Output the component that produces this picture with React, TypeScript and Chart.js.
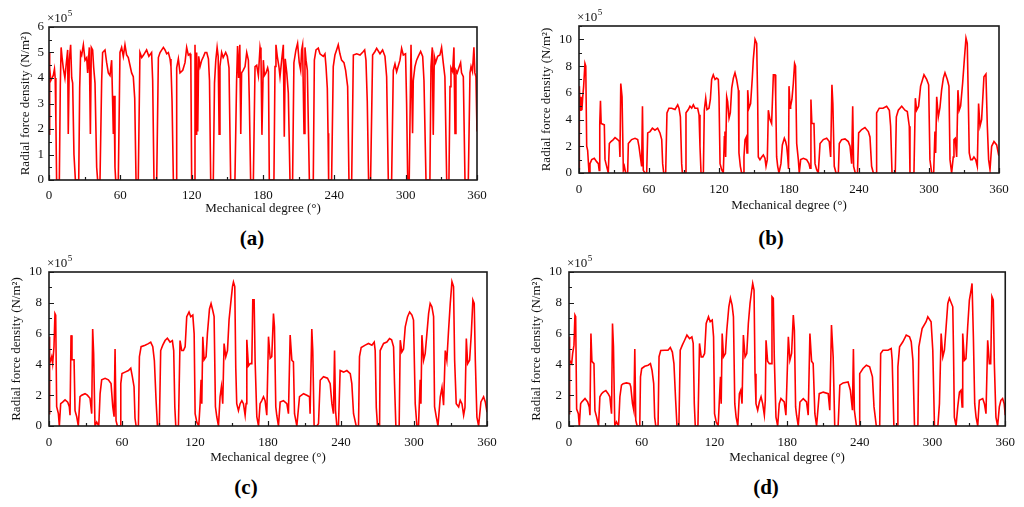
import { useEffect, useRef } from 'react'
import { Chart, LineController, LineElement, PointElement, LinearScale } from 'chart.js'

Chart.register(LineController, LineElement, PointElement, LinearScale)

const FONT = '"Liberation Serif", "Times New Roman", serif'
const X_TITLE = 'Mechanical degree (°)'
const Y_TITLE = 'Radial force density (N/m²)'
const LABELS = ['(a)', '(b)', '(c)', '(d)']
const X_TICKS = [0, 60, 120, 180, 240, 300, 360]
const Y_TICKS_A = [0, 1, 2, 3, 4, 5, 6]
const Y_TICKS_B = [0, 2, 4, 6, 8, 10]
const Y_TICKS_CD = [0, 2, 4, 6, 8, 10]

// [mechanical degree, radial force density ×10^5 N/m²]
const seriesA1 = [
  [0, 1.8], [0.3, 5.0], [0.8, 4.4], [1.5, 3.9], [2.6, 4.0], [3.6, 4.1], [4.6, 4.35], [5.2, 4.0], [5.8, 2.3], [6.4, 0],
  [8.7, 0], [9.5, 3.7], [10.2, 5.2], [11.0, 4.8], [12.0, 4.4], [13.4, 4.0], [14.4, 4.5], [15.7, 5.1], [16.2, 1.8], [17.1, 4.7],
  [18.2, 5.3], [19.1, 4.0], [19.9, 3.8], [21.0, 1.0], [22.2, 0], [25.0, 0], [25.8, 3.6], [26.6, 5.0], [27.5, 4.9], [28.9, 5.3],
  [30.3, 4.7], [31.7, 4.8], [32.5, 4.2], [33.9, 5.2], [34.8, 1.8], [35.6, 5.2], [36.7, 5.1], [37.6, 4.4], [38.7, 3.8], [40.1, 0.5],
  [40.9, 0], [42.9, 0], [44.3, 3.9], [45.1, 5.0], [47.1, 5.1], [48.5, 4.6], [49.9, 4.2], [51.3, 4.1], [52.7, 4.7], [53.6, 2.9],
  [54.1, 1.8], [54.7, 3.3], [55.5, 0.5], [56.1, 0], [58.3, 0], [59.7, 5.0], [61.1, 5.2], [62.5, 4.85], [63.9, 5.3], [65.3, 4.9],
  [66.7, 4.8], [68.1, 4.5], [69.5, 4.2], [70.9, 4.05], [72.1, 3.2], [73.2, 0], [75.1, 0], [76.5, 5.0], [78.0, 4.8], [79.5, 4.9],
  [82.1, 5.1], [84.0, 4.85], [86.3, 5.0], [87.2, 3.9], [88.3, 0], [90.6, 0], [92.0, 4.8], [93.4, 5.0], [96.2, 5.2], [97.6, 5.1],
  [99.0, 4.95], [100.4, 5.0], [101.8, 4.75], [102.6, 4.45], [103.5, 3.1], [104.6, 0], [107.0, 0], [107.4, 4.4], [108.8, 4.75], [110.2, 4.2],
  [112.5, 4.3], [114.4, 4.6], [115.8, 5.2], [117.2, 4.9], [118.6, 4.95], [119.3, 4.7], [120.0, 0], [122.0, 0], [122.8, 5.3], [123.7, 1.8],
  [124.2, 5.0], [125.1, 1.9], [125.9, 4.85], [127.1, 4.45], [128.5, 4.7], [130.0, 4.85], [131.3, 5.0], [132.7, 5.0], [134.1, 4.75], [135.0, 3.9],
  [136.0, 0], [138.2, 0], [139.2, 3.8], [140.3, 4.7], [141.4, 5.2], [142.3, 4.85], [143.1, 1.8], [143.8, 4.45], [145.2, 5.0], [146.5, 4.8],
  [148.6, 5.0], [150.0, 4.85], [151.4, 4.4], [152.8, 0], [156.4, 0], [157.8, 3.9], [158.6, 5.25], [159.5, 4.0], [160.5, 5.3], [161.3, 1.8],
  [162.0, 4.2], [163.3, 4.3], [164.9, 4.45], [166.3, 5.0], [167.7, 4.7], [168.5, 3.1], [169.6, 0], [171.9, 0], [173.3, 4.45], [174.7, 4.5],
  [176.1, 4.1], [177.5, 5.2], [178.3, 4.95], [179.1, 1.77],
]
const seriesA2 = [
  [180.3, 4.7], [181.2, 4.1], [182.5, 4.2], [183.9, 4.4], [184.6, 4.25], [185.3, 0], [189.2, 0], [190.1, 4.45], [190.9, 5.3], [192.0, 4.85],
  [193.4, 4.45], [194.3, 4.05], [195.7, 4.7], [197.1, 5.3], [197.9, 1.7], [198.7, 4.75], [200.0, 4.2], [201.3, 3.4], [202.7, 0], [204.9, 0],
  [206.0, 4.6], [207.7, 5.1], [209.1, 5.36], [210.5, 4.6], [211.7, 4.3], [212.5, 5.1], [213.3, 5.3], [214.5, 1.83], [215.3, 5.2], [216.2, 4.7],
  [217.3, 4.3], [219.0, 0], [222.3, 0], [223.2, 4.7], [224.6, 5.1], [226.5, 5.17], [227.9, 4.95], [229.3, 4.9], [230.7, 4.85], [232.1, 4.95],
  [233.0, 4.45], [234.1, 3.6], [234.7, 1.83], [235.2, 0], [237.7, 0], [239.1, 4.45], [240.5, 4.9], [241.9, 5.1], [243.3, 5.3], [244.7, 4.95],
  [246.1, 4.7], [248.1, 4.6], [249.5, 4.3], [251.2, 3.66], [252.3, 0], [254.6, 0], [256.0, 4.9], [258.8, 4.95], [261.6, 4.9], [264.4, 5.04],
  [265.5, 5.1], [266.6, 4.7], [267.7, 3.1], [268.8, 0], [270.5, 0], [272.2, 4.9], [274.2, 5.04], [275.6, 5.16], [278.4, 4.95], [280.6, 5.1],
  [282.6, 4.85], [284.0, 4.05], [285.4, 0], [288.2, 0], [289.6, 4.3], [291.0, 4.55], [292.4, 4.25], [295.2, 4.7], [296.6, 5.16], [298.0, 4.9],
  [299.9, 4.95], [300.8, 3.0], [301.7, 0], [303.0, 0], [304.5, 5.3], [305.8, 1.83], [306.4, 3.9], [307.8, 4.45], [309.2, 4.7], [310.6, 4.85],
  [312.6, 5.04], [314.3, 4.85], [315.4, 3.9], [317.1, 0], [320.4, 0], [321.3, 4.45], [322.4, 5.2], [323.2, 1.77], [324.1, 4.85], [325.2, 4.6],
  [326.9, 4.85], [328.8, 4.9], [330.2, 5.2], [331.6, 4.6], [333.0, 4.05], [334.5, 0], [336.4, 0], [337.3, 3.66], [338.1, 4.4], [339.5, 4.25],
  [340.6, 5.2], [341.5, 1.83], [342.3, 4.3], [343.4, 4.2], [345.1, 4.45], [346.2, 4.6], [347.0, 4.2], [348.5, 4.05], [349.9, 0], [352.7, 0],
  [354.1, 4.2], [355.0, 4.45], [356.2, 4.25], [357.4, 5.2], [358.2, 4.2], [359.1, 4.05], [360, 1.9],
]

const seriesB1 = [
  [0, 0.3], [0.3, 6.5], [0.9, 4.7], [1.7, 5.7], [2.5, 4.7], [3.2, 5.7], [4.0, 6.5], [5.1, 8.2], [5.8, 8.0], [6.6, 2.0],
  [7.4, 1.7], [8.6, 0], [9.4, 0.7], [10.9, 1.0], [13.1, 1.1], [15.1, 0.85], [16.6, 0.7], [17.3, 0.2], [17.8, 3.7], [18.4, 5.4],
  [19.0, 3.7], [21.7, 3.6], [22.3, 1.0], [23.7, 0.5], [25.1, 0], [26.0, 2.2], [27.4, 2.35], [29.4, 2.5], [30.9, 2.65], [33.1, 2.5],
  [34.6, 2.35], [35.1, 1.2], [35.8, 6.7], [36.9, 5.7], [38.0, 0.2], [38.9, 0.5], [40.0, 0], [41.7, 0], [42.3, 2.2], [43.7, 2.35],
  [45.1, 2.5], [48.0, 2.6], [50.3, 2.5], [51.4, 2.0], [52.6, 1.2], [53.7, 0.5], [54.4, 5.0], [55.1, 0.2], [56.6, 0], [58.0, 0],
  [58.9, 3.0], [60.9, 3.1], [62.9, 3.35], [65.1, 3.2], [67.4, 3.35], [69.4, 3.0], [70.9, 2.5], [71.7, 0.7], [72.6, 0], [74.3, 0],
  [75.4, 4.5], [77.1, 4.85], [79.4, 4.85], [82.3, 4.75], [84.6, 5.1], [85.7, 4.85], [86.9, 4.2], [88.0, 0.7], [88.6, 0], [90.9, 0],
  [91.7, 4.5], [93.7, 4.75], [95.1, 5.0], [96.6, 4.85], [98.0, 5.1], [99.4, 4.85], [101.7, 4.85], [102.9, 4.35], [103.7, 2.0], [104.6, 0],
  [106.6, 0], [107.4, 4.7], [108.6, 5.6], [109.7, 4.75], [111.4, 4.85], [112.6, 5.5], [113.7, 7.0], [115.1, 7.35], [116.6, 7.0], [118.0, 7.1],
  [119.4, 7.0], [120.0, 5.7], [120.9, 0.7], [122.3, 0.25], [123.7, 0], [124.6, 2.7], [125.1, 3.1], [125.7, 1.2], [126.6, 5.7], [127.4, 5.35],
  [128.6, 4.1], [129.7, 4.5], [130.9, 6.35], [132.3, 7.1], [133.7, 7.5], [135.1, 7.0], [136.6, 6.2], [137.1, 1.5], [138.3, 0.5], [139.4, 0],
  [140.9, 0], [141.4, 1.2], [142.3, 2.5], [143.4, 2.7], [144.0, 1.5], [144.6, 6.2], [145.7, 4.85], [147.1, 5.2], [148.6, 7.2], [149.4, 8.5],
  [150.9, 10.0], [152.3, 9.7], [153.1, 5.7], [153.7, 1.2], [155.1, 1.0], [156.6, 1.2], [158.0, 1.35], [159.4, 1.1], [160.3, 0.5], [161.4, 1.0],
  [162.3, 4.7], [163.7, 4.0], [165.1, 3.7], [166.6, 7.35], [168.0, 7.35], [168.6, 5.7], [169.4, 1.2], [170.3, 0.5], [171.4, 0], [173.1, 0.7],
  [174.3, 2.1], [176.0, 2.6], [177.1, 2.35], [178.0, 2.0], [178.9, 1.2], [179.6, 0.3],
]
const seriesB2 = [
  [180.0, 6.5], [181.0, 4.85], [181.4, 5.0], [182.5, 5.5], [183.7, 6.7], [184.8, 8.2], [185.6, 8.0], [186.6, 2.2], [188.0, 1.0], [188.8, 0],
  [190.0, 1.0], [192.3, 1.1], [195.1, 1.0], [197.1, 0.7], [198.0, 0.35], [198.8, 5.5], [199.6, 3.7], [201.4, 3.7], [202.3, 0.7], [203.7, 0.25],
  [205.1, 0], [206.6, 2.2], [209.4, 2.5], [212.3, 2.6], [214.5, 2.35], [215.7, 1.2], [216.8, 6.6], [217.6, 5.2], [218.8, 0.5], [220.3, 0],
  [222.3, 0], [223.1, 2.2], [225.1, 2.5], [228.0, 2.55], [230.8, 2.35], [232.3, 2.0], [233.7, 0.7], [234.6, 5.0], [235.4, 0.5], [236.8, 0],
  [238.7, 0], [239.7, 3.0], [242.3, 3.25], [245.1, 3.4], [248.0, 3.1], [249.4, 2.7], [250.8, 0.5], [252.3, 0], [254.6, 0], [255.1, 4.5],
  [257.4, 4.85], [260.6, 4.85], [263.7, 5.0], [266.0, 4.7], [267.1, 3.5], [268.3, 0], [271.1, 0], [272.0, 4.2], [273.7, 4.7], [276.6, 5.0],
  [279.4, 4.7], [281.4, 4.6], [283.1, 3.5], [283.7, 0], [287.1, 0], [288.3, 5.6], [289.4, 4.7], [291.1, 5.0], [292.8, 6.5], [294.5, 7.0],
  [295.7, 7.35], [298.0, 7.0], [299.7, 6.6], [300.8, 1.0], [302.3, 0], [304.0, 0], [305.1, 3.1], [305.7, 1.5], [306.6, 5.7], [308.0, 4.2],
  [309.4, 4.9], [310.8, 6.2], [312.3, 7.1], [313.7, 7.5], [315.7, 7.0], [317.1, 6.5], [318.0, 1.0], [319.4, 0], [320.8, 1.2], [321.4, 2.5],
  [322.5, 2.6], [323.7, 1.2], [324.8, 6.2], [325.9, 4.7], [327.1, 5.0], [328.8, 6.7], [330.3, 8.5], [331.7, 10.1], [332.8, 9.7], [333.7, 5.5],
  [334.5, 1.5], [335.7, 1.0], [337.1, 1.0], [338.5, 1.2], [340.0, 1.0], [341.4, 0.5], [342.5, 5.2], [343.7, 3.5], [345.1, 4.0], [347.1, 7.2],
  [348.8, 7.4], [350.0, 3.5], [351.1, 1.0], [352.3, 0.25], [353.7, 2.0], [355.7, 2.35], [358.0, 2.1], [359.7, 1.35], [360, 1.3],
]

const seriesC1 = [
  [0, 0.8], [0.2, 5.8], [0.8, 4.05], [2.2, 4.5], [3.0, 4.05], [4.1, 5.15], [4.9, 7.3], [5.5, 7.2], [6.3, 1.25], [7.7, 0.8],
  [8.5, 0], [9.6, 1.45], [11.2, 1.55], [13.2, 1.7], [15.4, 1.55], [16.7, 1.25], [17.3, 0.7], [18.1, 5.9], [18.9, 4.3], [20.6, 4.3],
  [21.4, 1.0], [22.8, 0.6], [24.1, 0], [25.5, 1.9], [26.9, 2.0], [29.6, 2.1], [31.5, 2.0], [33.7, 1.8], [35.1, 0.8], [35.9, 6.3],
  [36.7, 4.7], [37.8, 0], [39.2, 0.25], [40.9, 0], [42.0, 2.1], [43.3, 3.0], [46.1, 3.1], [48.8, 3.0], [51.0, 2.75], [52.4, 1.25],
  [53.5, 0.6], [54.3, 5.0], [55.1, 0.35], [56.2, 0], [58.4, 0], [59.0, 2.75], [60.0, 3.4], [62.5, 3.5], [65.3, 3.6], [67.2, 3.75],
  [68.5, 3.2], [69.9, 2.55], [70.7, 0.5], [71.6, 0], [73.5, 0], [74.3, 4.5], [75.7, 5.15], [79.0, 5.25], [81.7, 5.35], [83.6, 5.45],
  [85.3, 5.15], [86.6, 4.25], [88.0, 1.65], [89.1, 0], [90.7, 0], [91.8, 4.9], [93.5, 5.25], [95.4, 5.55], [97.3, 5.7], [99.5, 5.45],
  [101.4, 5.55], [102.5, 4.9], [103.4, 1.25], [104.2, 0], [106.4, 0], [107.7, 5.55], [109.1, 4.9], [110.5, 4.9], [111.9, 5.15], [113.2, 7.1],
  [115.1, 7.4], [116.5, 7.1], [118.2, 7.2], [119.3, 6.0], [120.1, 0.8], [121.5, 0.25], [123.1, 0], [124.2, 1.45], [125.0, 3.0], [125.6, 1.45],
  [126.4, 5.8], [127.5, 4.3], [129.1, 4.5], [130.2, 6.0], [131.9, 7.6], [133.2, 7.95], [134.6, 7.5], [135.7, 7.1], [136.8, 1.25], [137.9, 0.6],
  [139.3, 0], [140.6, 1.9], [141.7, 2.55], [142.8, 1.45], [143.9, 5.35], [145.3, 4.5], [146.7, 4.9], [148.0, 6.9], [149.4, 8.0], [150.8, 9.05],
  [151.6, 9.35], [152.7, 9.05], [153.5, 3.8], [154.3, 1.45], [155.7, 1.0], [157.1, 1.45], [158.5, 1.65], [159.8, 1.45], [161.2, 0.7], [162.0, 1.45],
  [162.6, 5.6], [163.9, 3.9], [165.3, 4.05], [166.7, 4.05], [167.5, 8.2], [168.6, 8.2], [169.4, 4.25], [170.8, 0.6], [172.2, 0], [173.5, 1.45],
  [174.9, 1.65], [176.3, 1.9], [177.6, 1.65], [179.0, 0.7],
]
const seriesC2 = [
  [180.4, 5.8], [181.8, 4.4], [183.1, 4.5], [184.5, 7.3], [185.3, 6.45], [186.4, 1.25], [187.2, 0.7], [188.6, 0], [190.0, 1.55], [192.7, 1.65],
  [195.5, 1.45], [196.8, 0.8], [198.2, 5.9], [199.6, 4.27], [200.9, 4.16], [201.8, 0.8], [203.7, 0], [205.9, 1.9], [209.2, 2.1], [211.9, 2.0],
  [214.1, 1.9], [214.6, 0.8], [216.0, 6.3], [216.8, 4.9], [217.9, 0], [220.1, 0], [221.5, 0.15], [222.9, 2.97], [225.6, 3.2], [228.9, 3.1],
  [231.1, 2.75], [232.5, 1.45], [233.8, 0.8], [234.7, 4.9], [235.5, 1.0], [236.6, 0], [237.9, 0], [239.3, 3.6], [242.1, 3.5], [244.8, 3.6],
  [247.6, 3.4], [248.9, 2.75], [250.3, 0.8], [252.5, 0], [254.4, 0], [255.2, 4.5], [256.6, 5.1], [259.9, 5.25], [262.6, 5.36], [265.4, 5.25],
  [267.3, 5.45], [268.1, 4.9], [269.0, 1.2], [270.0, 0], [271.7, 0], [272.2, 4.9], [275.0, 5.36], [277.7, 5.45], [279.9, 5.68], [281.6, 5.6],
  [283.2, 5.14], [284.0, 2.75], [285.1, 0], [287.8, 0], [288.7, 5.57], [290.0, 4.8], [291.4, 5.0], [292.8, 6.44], [294.7, 7.1], [296.4, 7.4],
  [298.3, 7.2], [299.6, 6.88], [301.0, 1.45], [302.4, 0], [303.7, 0], [305.1, 3.0], [305.7, 1.45], [306.5, 5.9], [307.9, 4.27], [309.2, 4.7],
  [310.6, 6.0], [312.0, 7.3], [313.3, 7.96], [314.7, 7.75], [316.1, 7.1], [316.9, 1.25], [318.3, 0.6], [319.7, 0], [321.6, 1.9], [323.0, 2.5],
  [324.3, 1.35], [325.7, 4.9], [327.0, 4.27], [328.4, 6.2], [329.8, 7.96], [331.2, 9.37], [332.5, 9.05], [333.4, 4.27], [334.7, 1.45], [336.7, 1.24],
  [338.0, 1.67], [339.4, 1.45], [340.8, 0.7], [341.9, 1.2], [343.0, 5.68], [344.1, 4.05], [345.7, 4.27], [347.1, 6.0], [348.4, 8.18], [349.5, 7.96],
  [350.4, 4.27], [351.7, 0.58], [353.1, 0], [355.0, 1.56], [357.2, 1.9], [358.6, 1.56], [360, 0.9],
]

const seriesD1 = [
  [0, 0.8], [0.2, 5.8], [0.8, 4.27], [2.2, 4.05], [3.0, 4.7], [4.1, 5.25], [4.9, 7.2], [5.5, 7.1], [6.3, 1.1], [7.7, 0.8],
  [8.5, 0], [9.6, 1.45], [10.5, 1.56], [13.2, 1.78], [15.4, 1.56], [16.7, 1.24], [17.3, 0.7], [18.1, 6.0], [18.9, 4.2], [20.6, 4.05],
  [21.4, 1.0], [22.8, 0.58], [24.4, 0], [25.5, 1.9], [26.9, 2.1], [28.2, 2.2], [30.4, 2.3], [32.3, 2.1], [33.7, 1.9], [35.1, 0.8],
  [35.9, 6.66], [36.7, 5.14], [37.8, 0], [39.2, 0.26], [40.9, 0], [42.0, 1.9], [43.3, 2.65], [44.7, 2.75], [47.4, 2.8], [50.2, 2.75],
  [51.0, 2.54], [52.4, 1.45], [53.5, 1.0], [54.3, 5.0], [55.1, 0.37], [56.2, 0], [58.4, 0], [59.0, 3.19], [60.0, 3.73], [62.5, 3.88],
  [65.3, 3.95], [67.2, 4.05], [68.5, 3.62], [69.9, 2.75], [70.7, 0.58], [71.6, 0], [73.5, 0], [74.3, 4.5], [75.7, 4.9], [79.0, 4.92],
  [81.7, 4.92], [83.6, 5.1], [85.3, 4.8], [86.6, 4.05], [88.0, 1.67], [89.1, 0], [90.7, 0], [91.8, 4.92], [93.5, 5.25], [95.4, 5.57],
  [97.3, 5.9], [99.5, 5.68], [101.4, 5.79], [102.5, 5.36], [103.4, 1.45], [104.2, 0], [106.4, 0], [107.7, 5.36], [109.1, 4.49], [110.5, 4.49],
  [111.9, 4.71], [113.2, 6.66], [115.1, 7.09], [116.5, 6.77], [118.2, 6.88], [119.3, 5.79], [120.1, 0.8], [121.5, 0.26], [123.1, 0], [124.2, 1.89],
  [125.0, 3.19], [125.6, 1.45], [126.4, 6.0], [127.5, 4.49], [129.1, 4.71], [130.2, 6.2], [131.9, 7.74], [133.2, 8.3], [134.6, 7.85], [135.7, 7.09],
  [136.8, 1.45], [137.9, 0.58], [139.3, 0], [140.6, 2.1], [141.7, 2.32], [142.8, 1.45], [143.9, 5.9], [145.3, 4.49], [146.7, 4.71], [148.0, 6.66],
  [149.4, 7.96], [150.8, 8.83], [151.6, 9.26], [152.7, 8.83], [153.5, 3.4], [154.3, 1.45], [155.7, 1.02], [157.1, 1.56], [158.5, 1.9], [159.8, 1.45],
  [161.2, 0.7], [162.0, 1.67], [162.6, 5.57], [163.9, 4.2], [165.3, 4.05], [166.7, 4.05], [167.5, 8.4], [168.6, 8.3], [169.4, 4.49], [170.8, 0.58],
  [172.2, 0], [173.5, 1.45], [174.9, 1.78], [177.6, 1.56], [179.0, 0.7],
]
const seriesD2 = [
  [181.0, 5.8], [182.3, 4.27], [183.7, 4.71], [185.1, 7.2], [186.0, 6.2], [187.0, 1.24], [187.8, 0.7], [189.2, 0], [190.6, 1.56], [193.3, 1.78],
  [196.0, 1.56], [197.4, 0.7], [198.8, 6.0], [200.2, 4.2], [201.5, 4.05], [202.9, 0.8], [204.3, 0], [206.5, 2.1], [209.8, 2.2], [213.9, 2.1],
  [215.2, 1.02], [216.6, 6.55], [218.0, 4.49], [219.3, 0], [222.1, 0], [223.5, 2.65], [226.2, 2.8], [230.3, 2.86], [232.2, 2.32], [233.9, 1.02],
  [234.7, 5.0], [235.5, 1.02], [237.2, 0], [239.4, 0], [239.9, 3.4], [242.6, 3.73], [245.4, 3.95], [248.1, 3.84], [250.4, 3.19], [251.7, 1.24],
  [253.6, 0], [256.4, 0], [257.2, 4.71], [259.1, 4.92], [263.2, 4.92], [265.9, 5.03], [266.7, 4.27], [268.1, 0], [270.9, 0], [271.4, 3.84],
  [272.8, 5.14], [275.5, 5.47], [278.3, 5.9], [281.0, 5.79], [282.4, 5.47], [283.8, 4.27], [285.1, 0], [287.9, 0], [288.7, 5.14], [291.4, 6.33],
  [294.7, 6.77], [296.1, 7.09], [298.8, 6.77], [300.2, 4.92], [301.6, 0], [304.4, 0], [305.7, 1.45], [307.1, 6.0], [308.5, 4.49], [309.8, 4.92],
  [311.2, 6.44], [312.6, 7.96], [313.9, 8.3], [316.7, 7.74], [317.3, 4.92], [318.0, 0.58], [319.4, 0], [320.8, 1.24], [322.2, 2.2], [323.5, 2.32],
  [324.4, 1.24], [324.9, 6.0], [326.3, 4.27], [327.6, 4.38], [329.0, 6.44], [330.4, 8.18], [331.8, 8.83], [332.6, 9.26], [333.7, 5.79], [334.8, 1.45],
  [335.9, 0.58], [337.3, 0], [338.6, 1.67], [341.4, 1.78], [342.8, 1.45], [344.1, 0.8], [345.5, 5.57], [346.9, 4.05], [348.0, 4.05], [349.0, 8.4],
  [350.1, 8.18], [351.0, 4.05], [352.3, 0.58], [353.7, 0], [355.1, 1.24], [356.4, 1.67], [357.8, 1.78], [359.1, 1.45], [360, 0.7],
]

// inward tick marks, full frame and the ×10^5 factor
const framePlugin = {
  id: 'frame',
  afterDatasetsDraw(chart: any, _args: any, opts: any) {
    const { ctx, chartArea } = chart
    const { left, right, top, bottom } = chartArea
    const x = chart.scales.x
    const y = chart.scales.y
    ctx.save()
    ctx.strokeStyle = '#1a1a1a'
    ctx.lineWidth = 1.2
    ctx.beginPath()
    for (let v = 0; v <= 360; v += 30) {
      const px = Math.round(x.getPixelForValue(v)) + 0.5
      ctx.moveTo(px, bottom)
      ctx.lineTo(px, bottom - (v % 60 === 0 ? 5 : 3))
    }
    for (let v = 0; v <= opts.yMax + 1e-6; v += opts.yMinor) {
      const py = Math.round(y.getPixelForValue(v)) + 0.5
      const major = Math.abs(v / opts.yStep - Math.round(v / opts.yStep)) < 1e-6
      ctx.moveTo(left, py)
      ctx.lineTo(left + (major ? 5 : 3), py)
    }
    ctx.stroke()
    ctx.lineWidth = 1.6
    ctx.strokeRect(left, top, right - left, bottom - top)
    ctx.fillStyle = '#111'
    ctx.textBaseline = 'alphabetic'
    ctx.font = `13px ${FONT}`
    ctx.fillText('×10', left - 2, top - 5)
    const w = ctx.measureText('×10').width
    ctx.font = `9px ${FONT}`
    ctx.fillText('5', left - 1.5 + w, top - 11)
    ctx.restore()
  },
}

type PanelSpec = {
  left: number
  top: number
  w: number
  h: number
  padTop: number
  padRight: number
  yWidth: number
  xHeight: number
  yMax: number
  yStep: number
  yMinor: number
  yTicks: number[]
  yTitlePad: number
  yTickPad: number
  xTickPad: number
  series: number[][]
}

const PANELS: PanelSpec[] = [
  { left: 0, top: 0, w: 500, h: 218, padTop: 27, padRight: 23, yWidth: 49, xHeight: 38, yMax: 6, yStep: 1, yMinor: 0.5, yTicks: Y_TICKS_A, yTitlePad: 18, yTickPad: 5, xTickPad: 8, series: [...seriesA1, ...seriesA2] },
  { left: 525, top: 0, w: 499, h: 215, padTop: 26, padRight: 25, yWidth: 54, xHeight: 42, yMax: 11, yStep: 2, yMinor: 1, yTicks: Y_TICKS_B, yTitlePad: 14, yTickPad: 7, xTickPad: 9, series: [...seriesB1, ...seriesB2] },
  { left: 0, top: 250, w: 510, h: 217, padTop: 22, padRight: 23, yWidth: 49, xHeight: 41, yMax: 10, yStep: 2, yMinor: 1, yTicks: Y_TICKS_CD, yTitlePad: 9, yTickPad: 7, xTickPad: 9, series: [...seriesC1, ...seriesC2] },
  { left: 520, top: 250, w: 504, h: 217, padTop: 22, padRight: 17, yWidth: 49, xHeight: 41, yMax: 10, yStep: 2, yMinor: 1, yTicks: Y_TICKS_CD, yTitlePad: 9, yTickPad: 7, xTickPad: 9, series: [...seriesD1, ...seriesD2] },
]

const LABEL_POS = [
  { x: 252, y: 238 },
  { x: 771, y: 238 },
  { x: 246, y: 487 },
  { x: 766, y: 487 },
]

function Panel({ p }: { p: PanelSpec }) {
  const canvasRef = useRef<HTMLCanvasElement | null>(null)

  useEffect(() => {
    if (!canvasRef.current) return
    const tickFont = { family: FONT, size: 13 }
    const chart = new Chart(canvasRef.current, {
      type: 'line',
      data: {
        datasets: [
          {
            data: p.series.map(([d, v]) => ({ x: d, y: v })),
            borderColor: '#ff0000',
            borderWidth: 1.6,
            pointRadius: 0,
            tension: 0,
            fill: false,
          },
        ],
      },
      options: {
        responsive: false,
        animation: false,
        events: [],
        layout: { padding: { top: p.padTop, right: p.padRight, left: 0, bottom: 0 } },
        plugins: { legend: { display: false }, tooltip: { enabled: false }, frame: { yMax: p.yMax, yStep: p.yStep, yMinor: p.yMinor } } as any,
        scales: {
          x: {
            type: 'linear',
            min: 0,
            max: 360,
            grid: { display: false, drawTicks: false, tickLength: 0 },
            border: { display: false },
            ticks: { color: '#111', font: tickFont, padding: p.xTickPad, maxRotation: 0 },
            afterBuildTicks: (s: any) => {
              s.ticks = X_TICKS.map((v) => ({ value: v }))
            },
            title: { display: true, text: X_TITLE, color: '#111', font: { family: FONT, size: 13, lineHeight: 1.2 }, padding: { top: 0, bottom: 2 } },
            afterFit: (s: any) => { s.height = p.xHeight },
          },
          y: {
            type: 'linear',
            min: 0,
            max: p.yMax,
            grid: { display: false, drawTicks: false, tickLength: 0 },
            border: { display: false },
            ticks: { color: '#111', font: tickFont, padding: p.yTickPad },
            afterBuildTicks: (s: any) => {
              s.ticks = p.yTicks.map((v) => ({ value: v }))
            },
            title: { display: true, text: Y_TITLE, color: '#111', font: { family: FONT, size: 13, lineHeight: 1.2 }, padding: { top: p.yTitlePad, bottom: 0 } },
            afterFit: (s: any) => { s.width = p.yWidth },
          },
        },
      },
      plugins: [framePlugin as any],
    })
    return () => chart.destroy()
  }, [p])

  return (
    <canvas
      ref={canvasRef}
      width={p.w}
      height={p.h}
      style={{ position: 'absolute', left: p.left, top: p.top, width: p.w, height: p.h }}
    />
  )
}

export default function App() {
  return (
    <div style={{ position: 'fixed', left: 0, top: 0, width: 1024, height: 507, background: '#fff', overflow: 'hidden' }}>
      {PANELS.map((p, i) => (
        <Panel key={i} p={p} />
      ))}
      {LABELS.map((t, i) => (
        <div
          key={t}
          style={{
            position: 'absolute',
            left: LABEL_POS[i].x,
            top: LABEL_POS[i].y,
            transform: 'translate(-50%, -50%)',
            fontFamily: FONT,
            fontWeight: 'bold',
            fontSize: 21,
            color: '#000',
            lineHeight: 1,
          }}
        >
          {t}
        </div>
      ))}
    </div>
  )
}
